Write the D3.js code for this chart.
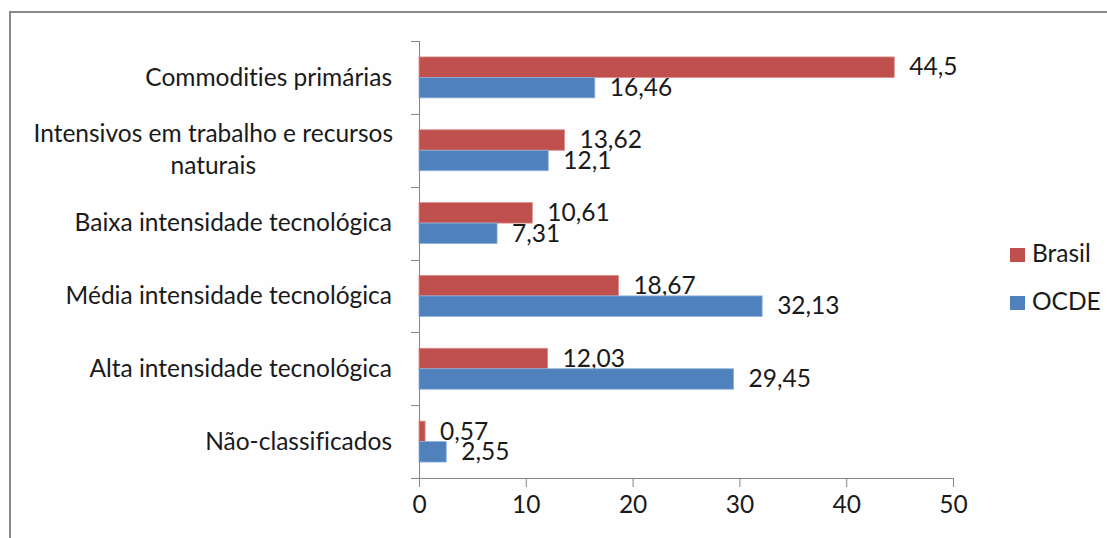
<!DOCTYPE html>
<html><head><meta charset="utf-8">
<script src="https://cdn.jsdelivr.net/npm/d3@7"></script>
<style>body{margin:0;background:#fff}svg{display:block}text{font-family:Lato,"Open Sans",sans-serif;fill:#1a1a1a;font-variant-ligatures:none;font-feature-settings:"liga" 0}</style>
</head><body><svg id="c" width="1107" height="538"></svg>
<script>
const categories = [
  ["Commodities primárias"],
  ["Intensivos em trabalho e recursos","naturais"],
  ["Baixa intensidade tecnológica"],
  ["Média intensidade tecnológica"],
  ["Alta intensidade tecnológica"],
  ["Não-classificados"]
];
const catKeys = categories.map(c => c.join(" "));
const seriesNames = ["Brasil","OCDE"];
const brasil = [44.5, 13.62, 10.61, 18.67, 12.03, 0.57];
const ocde = [16.46, 12.1, 7.31, 32.13, 29.45, 2.55];
const labelsBrasil = ["44,5","13,62","10,61","18,67","12,03","0,57"];
const labelsOcde = ["16,46","12,1","7,31","32,13","29,45","2,55"];
const xTicks = [0,10,20,30,40,50];
const colors = ["#C0504D","#4F81BD"];
const strokes = ["#d98b88","#8fb0d8"];

const svg = d3.select("#c");
svg.append("rect").attr("width",1107).attr("height",538).attr("fill","#fefefe");
svg.append("rect").attr("x",10).attr("y",12).attr("width",1200).attr("height",600)
  .attr("fill","none").attr("stroke","#8a8a8a").attr("stroke-width",2);

const x = d3.scaleLinear().domain([0,50]).range([419,953]);
const y = d3.scaleBand().domain(catKeys).range([41,478]);
const sub = d3.scaleBand().domain(seriesNames).range([0,y.bandwidth()]).paddingOuter(0.78);

const fs = 24.5;
const ff = "Lato,'Open Sans',sans-serif";
const data = catKeys.map((k,i)=>({k, vals:[brasil[i],ocde[i]], labs:[labelsBrasil[i],labelsOcde[i]], lines:categories[i]}));

// bars
const g = svg.append("g");
data.forEach(d=>{
  seriesNames.forEach((s,j)=>{
    g.append("rect").attr("x",x(0)).attr("y",y(d.k)+sub(s))
      .attr("width",x(d.vals[j])-x(0)).attr("height",sub.bandwidth())
      .attr("fill",colors[j]).attr("stroke",strokes[j]).attr("stroke-width",0.8);
    g.append("text").attr("x",x(d.vals[j])+15).attr("y",y(d.k)+sub(s)+sub.bandwidth()/2+2)
      .attr("dominant-baseline","middle").attr("font-size",fs).text(d.labs[j]);
  });
});

// x axis
const xa = svg.append("g").attr("transform","translate(0,478)")
  .call(d3.axisBottom(x).tickValues(xTicks).tickSize(9).tickPadding(9).tickFormat(d3.format("d")));
xa.select(".domain").attr("d","M411,0.5H953.5").attr("stroke","#868686");
xa.selectAll(".tick line").attr("stroke","#868686");
xa.selectAll(".tick text").attr("font-size",fs).attr("font-family",ff).attr("fill","#1a1a1a");

// y axis line and ticks at band boundaries
const bounds = catKeys.map(k=>y(k)).concat([478]);
svg.append("line").attr("x1",419.5).attr("x2",419.5).attr("y1",41).attr("y2",478).attr("stroke","#868686");
svg.selectAll(".ytick").data(bounds).join("line").attr("x1",411).attr("x2",419.5)
  .attr("y1",d=>Math.round(d)+0.5).attr("y2",d=>Math.round(d)+0.5).attr("stroke","#868686");

// category labels
data.forEach(d=>{
  const cy = y(d.k)+y.bandwidth()/2;
  const n = d.lines.length;
  const t = svg.append("text").attr("font-size",fs).attr("dominant-baseline","middle");
  if(n===1){
    t.attr("x",392).attr("y",cy+2).attr("text-anchor","end").text(d.lines[0]);
  } else {
    t.attr("text-anchor","middle");
    const tmp = svg.append("text").attr("font-size",fs).text(d.lines[0]);
    const w = tmp.node().getComputedTextLength(); tmp.remove();
    const cx = 393 - w/2;
    d.lines.forEach((ln,i)=>{
      t.append("tspan").attr("x",cx).attr("y",cy-16+32*i+2).text(ln);
    });
  }
});

// legend
const leg = svg.append("g");
seriesNames.forEach((s,i)=>{
  const ly = 255 + i*48;
  leg.append("rect").attr("x",1010).attr("y",ly-7).attr("width",15).attr("height",14).attr("fill",colors[i]);
  leg.append("text").attr("x",1032).attr("y",ly+1).attr("dominant-baseline","middle").attr("font-size",fs).text(s);
});
</script></body></html>
